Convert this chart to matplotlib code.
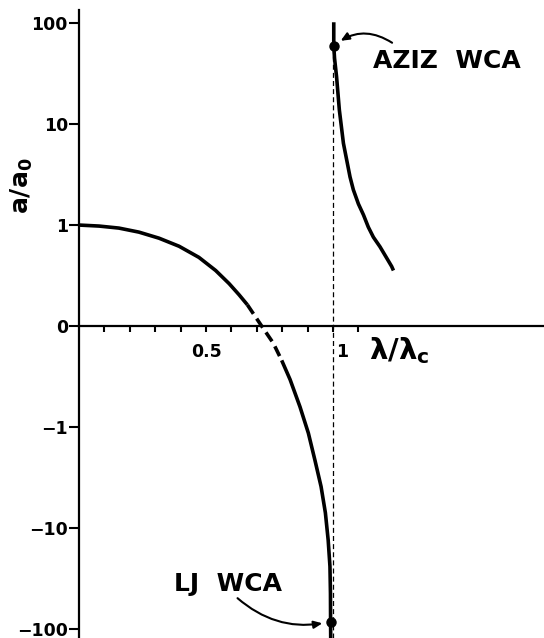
import numpy as np
import matplotlib
matplotlib.use("Agg")
import matplotlib.pyplot as plt
from matplotlib.transforms import ScaledTranslation

# ---------------- data ----------------
lj_lambda = [0.0, 0.079, 0.157, 0.236, 0.315, 0.394, 0.472, 0.538, 0.591,
             0.63, 0.663, 0.719, 0.765, 0.798, 0.831, 0.87, 0.903, 0.929,
             0.953, 0.97, 0.981, 0.988, 0.990, 0.9905, 0.991]
lj_a = [1.0, 0.99, 0.97, 0.93, 0.87, 0.79, 0.68, 0.55, 0.42,
        0.31, 0.21, 0.0, -0.17, -0.34, -0.53, -0.8, -1.15, -2.14,
        -3.89, -7.08, -13.2, -24.0, -44.7, -85.0, -126.0]
lj_dashed_range = (0.663, 0.798)   # extrapolated (dashed) part of LJ curve

aziz_lambda = [1.003, 1.003, 1.006, 1.014, 1.025, 1.041, 1.067, 1.08, 1.10,
               1.12, 1.139, 1.159, 1.185, 1.231, 1.238]
aziz_a = [102.0, 60.0, 45.0, 29.5, 13.8, 6.46, 3.0, 2.24, 1.62,
          1.26, 0.98, 0.88, 0.785, 0.59, 0.55]

aziz_point = (1.003, 60.0)
lj_point = (0.9905, -85.0)
lambda_c = 1.0

y_ticks = [-100, -10, -1, 0, 1, 10, 100]
y_ticklabels = ["\u2212100", "\u221210", "\u22121", "0", "1", "10", "100"]
x_ticks = [0.1, 0.2, 0.3, 0.4, 0.5, 0.6, 0.7, 0.8, 0.9, 1.0, 1.1]
x_ticklabels = ["", "", "", "", "0.5", "", "", "", "", "1", ""]


# ---------------- scale: log decades outside [-1,1], linear inside ----------------
def fwd(a):
    a = np.asarray(a, dtype=float)
    ab = np.abs(a)
    return np.where(ab >= 1, np.sign(a) * (1 + np.log10(np.maximum(ab, 1e-300))), a)


def inv(t):
    t = np.asarray(t, dtype=float)
    at = np.abs(t)
    return np.where(at >= 1, np.sign(t) * 10 ** (at - 1), t)


plt.rcParams["font.family"] = ["DejaVu Sans"]
plt.rcParams["font.weight"] = "bold"
plt.rcParams["mathtext.fontset"] = "dejavusans"
plt.rcParams["mathtext.default"] = "bf"

W, H = 544, 638
fig = plt.figure(figsize=(W / 100, H / 100), dpi=100)
ax = fig.add_axes([79 / W, 0, 1 - 79 / W, 628 / H])
ax.set_yscale("function", functions=(fwd, inv))
ax.set_xlim(0, (W - 79) / 254)
ax.set_ylim(float(inv(-3.09)), float(inv(3.13)))

for s in ["top", "right"]:
    ax.spines[s].set_visible(False)
ax.spines["bottom"].set_position(("data", 0))
ax.spines["left"].set_linewidth(1.6)
ax.spines["bottom"].set_linewidth(1.6)

ax.set_yticks(y_ticks)
ax.set_yticklabels(y_ticklabels)
ax.yaxis.set_minor_locator(matplotlib.ticker.NullLocator())
ax.tick_params(axis="y", length=7, width=1.5, pad=1, labelsize=12.5)
ax.set_xticks(x_ticks)
ax.set_xticklabels(x_ticklabels)
ax.tick_params(axis="x", length=4.5, width=1.5, pad=8, labelsize=12.5)
for lab in ax.get_xticklabels():
    if lab.get_text() == "1":
        lab.set_horizontalalignment("left")
        lab.set_transform(lab.get_transform() + ScaledTranslation(3 / 100, 0, fig.dpi_scale_trans))
for lab in ax.get_xticklabels() + ax.get_yticklabels():
    lab.set_fontweight("bold")
for lab in ax.get_yticklabels():
    if lab.get_text() == "\u2212100":
        lab.set_verticalalignment("center_baseline")

# reference line at lambda_c
ax.axvline(lambda_c, ymax=0.981, color="black", lw=0.9, ls=(0, (4, 2.5)))

# LJ curve, with dashed middle part
lam = np.array(lj_lambda)
aa = np.array(lj_a)
lo, hi = lj_dashed_range
m1 = lam <= lo
m2 = (lam >= lo) & (lam <= hi)
m3 = lam >= hi
ax.plot(lam[m1], aa[m1], color="black", lw=2.6, solid_capstyle="butt", solid_joinstyle="round")
ax.plot(lam[m2], aa[m2], color="black", lw=2.6, ls=(0, (3.0, 1.6)), dash_capstyle="butt")
ax.plot(lam[m3], aa[m3], color="black", lw=2.6, solid_capstyle="butt", solid_joinstyle="round")

# AZIZ curve
ax.plot(aziz_lambda, aziz_a, color="black", lw=2.6, solid_capstyle="butt", solid_joinstyle="round")

# marked points
ax.plot(*aziz_point, "o", color="black", ms=6.5)
ax.plot(*lj_point, "o", color="black", ms=6.5)

# labels and arrows
ax.annotate("AZIZ  WCA", xy=aziz_point, xytext=(28, -11), textcoords="offset points",
            ha="left", va="center", fontsize=18, fontweight="bold")
ax.annotate("", xy=aziz_point, xytext=(42, 2), textcoords="offset points",
            arrowprops=dict(arrowstyle="-|>,head_length=0.5,head_width=0.22", color="black",
                            lw=1.5, shrinkA=0, shrinkB=6,
                            connectionstyle="arc3,rad=0.35"))
ax.annotate("LJ  WCA", xy=lj_point, xytext=(-112.5, 27.5), textcoords="offset points",
            ha="left", va="center", fontsize=18, fontweight="bold")
ax.annotate("", xy=lj_point, xytext=(-67, 17), textcoords="offset points",
            arrowprops=dict(arrowstyle="-|>,head_length=0.5,head_width=0.22", color="black",
                            lw=1.5, shrinkA=0, shrinkB=6,
                            connectionstyle="arc3,rad=0.25"))

# axis titles
fig.text(22 / W, 1 - 186 / H, r"$a/a_0$", rotation=90, ha="center", va="center",
         fontsize=18)
fig.text(369 / W, 1 - 351 / H, r"$λ/λ_c$", ha="left", va="center", fontsize=21)

fig.savefig("out.png", dpi=100)
